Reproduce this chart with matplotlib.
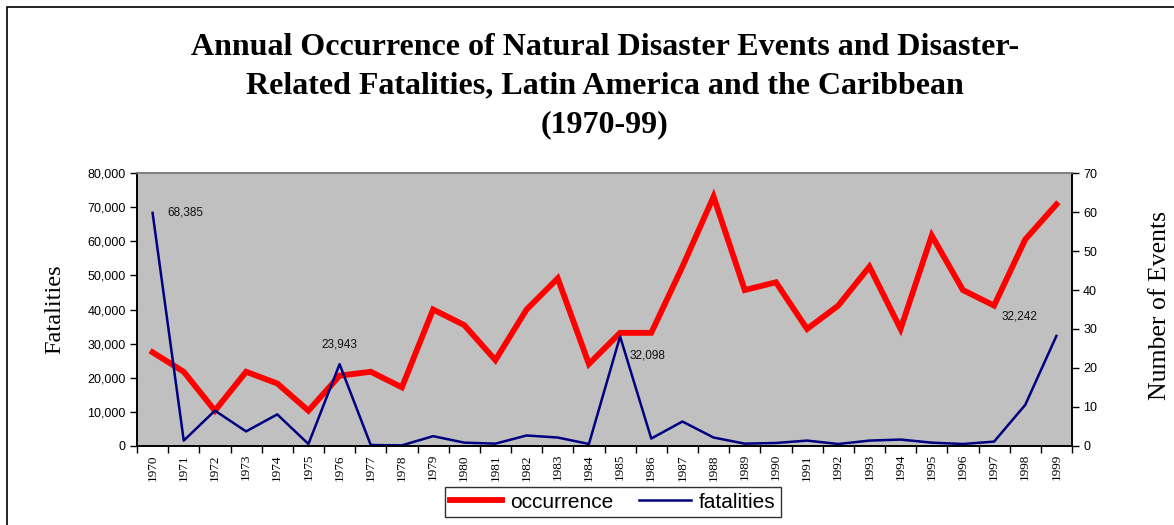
import matplotlib.pyplot as plt
from matplotlib.patches import Rectangle
from matplotlib.ticker import FuncFormatter, FixedLocator

years = list(range(1970, 2000))
occurrence = [24, 19, 9, 19, 16, 9, 18, 19, 15, 35,
              31, 22, 35, 43, 21, 29, 29, 46, 64, 40,
              42, 30, 36, 46, 30, 54, 40, 36, 53, 62]
fatalities = [68385, 1500, 10300, 4200, 9200, 500, 23943, 200, 100, 2800,
              900, 600, 3000, 2400, 500, 32098, 2100, 7100, 2400, 600,
              800, 1500, 500, 1500, 1800, 900, 500, 1200, 12000, 32242]
labelled = {0: (11, 0, "left", "center"),
            6: (0, 10, "center", "bottom"),
            15: (7, -14, "left", "center"),
            29: (-14, 14, "right", "center")}

plt.rcParams["font.family"] = ["Liberation Sans", "DejaVu Sans"]

fig = plt.figure(figsize=(11.74, 5.25), dpi=100)
fig.patches.append(Rectangle((7 / 1174, -0.1), 1.2, 1 - 7 / 525 + 0.1,
                             transform=fig.transFigure, fill=False,
                             edgecolor="black", linewidth=1.2))

ax2 = fig.add_axes([137 / 1174, 79.3 / 525, 935 / 1174, 272.4 / 525])
ax = ax2.twinx()
# left axis (fatalities) drawn above the events axis
ax.yaxis.tick_left()
ax2.yaxis.tick_right()
ax.set_zorder(ax2.get_zorder() + 1)
ax.patch.set_visible(False)
ax2.set_facecolor("#C0C0C0")

x = list(range(len(years)))
l1, = ax2.plot(x, occurrence, color="#FF0000", linewidth=4.2,
               solid_joinstyle="miter", label="occurrence")
l2, = ax.plot(x, fatalities, color="#000080", linewidth=1.8,
              label="fatalities")

for i, (dx, dy, ha, va) in labelled.items():
    ax.annotate(f"{fatalities[i]:,}", (i, fatalities[i]), xytext=(dx, dy),
                textcoords="offset points", ha=ha, va=va, fontsize=8.5,
                color="#111111")

ax.set_xlim(-0.5, len(years) - 0.5)
ax.set_ylim(0, 80000)
ax2.set_ylim(0, 70)
ax.set_yticks(range(0, 80001, 10000))
ax.yaxis.set_major_formatter(FuncFormatter(lambda v, p: f"{int(v):,}"))
ax2.set_yticks(range(0, 71, 10))

for a in (ax, ax2):
    a.xaxis.set_major_locator(FixedLocator([i - 0.5 for i in range(len(years) + 1)]))
    a.xaxis.set_minor_locator(FixedLocator(x))
    a.tick_params(axis="x", which="major", length=5, width=1, labelbottom=False)
    a.tick_params(axis="x", which="minor", length=0, pad=6)
    a.tick_params(axis="y", length=5, width=1, labelsize=9, pad=3)
    for s in a.spines.values():
        s.set_linewidth(1.2)
    a.spines["top"].set_color("#808080")
ax2.set_xticks(x, minor=True)
ax2.set_xticklabels([str(y) for y in years], minor=True, rotation=90,
                    fontsize=9.5, family="Liberation Serif")
ax.tick_params(axis="x", which="both", labelbottom=False)

fig.text(55 / 1174, 1 - 309 / 525, "Fatalities", rotation=90, ha="center",
         va="center", family="Liberation Serif", fontsize=17.5)
fig.text(1160 / 1174, 1 - 305 / 525, "Number of Events", rotation=90,
         ha="center", va="center", family="Liberation Serif", fontsize=18.5)

fig.text(0.515, 1 - 86 / 525,
         "Annual Occurrence of Natural Disaster Events and Disaster-\n"
         "Related Fatalities, Latin America and the Caribbean\n(1970-99)",
         ha="center", va="center", family="Liberation Serif",
         fontweight="bold", fontsize=23, linespacing=1.45)

leg = fig.legend([l1, l2], ["occurrence", "fatalities"], loc="center",
                 bbox_to_anchor=(613 / 1174, 23 / 525), ncol=2, fontsize=15,
                 frameon=True, fancybox=False, edgecolor="black",
                 handlelength=2.5, handletextpad=0.4, columnspacing=1.2,
                 borderpad=0.25)
leg.get_frame().set_linewidth(1.0)

fig.savefig("out.png", dpi=100)
